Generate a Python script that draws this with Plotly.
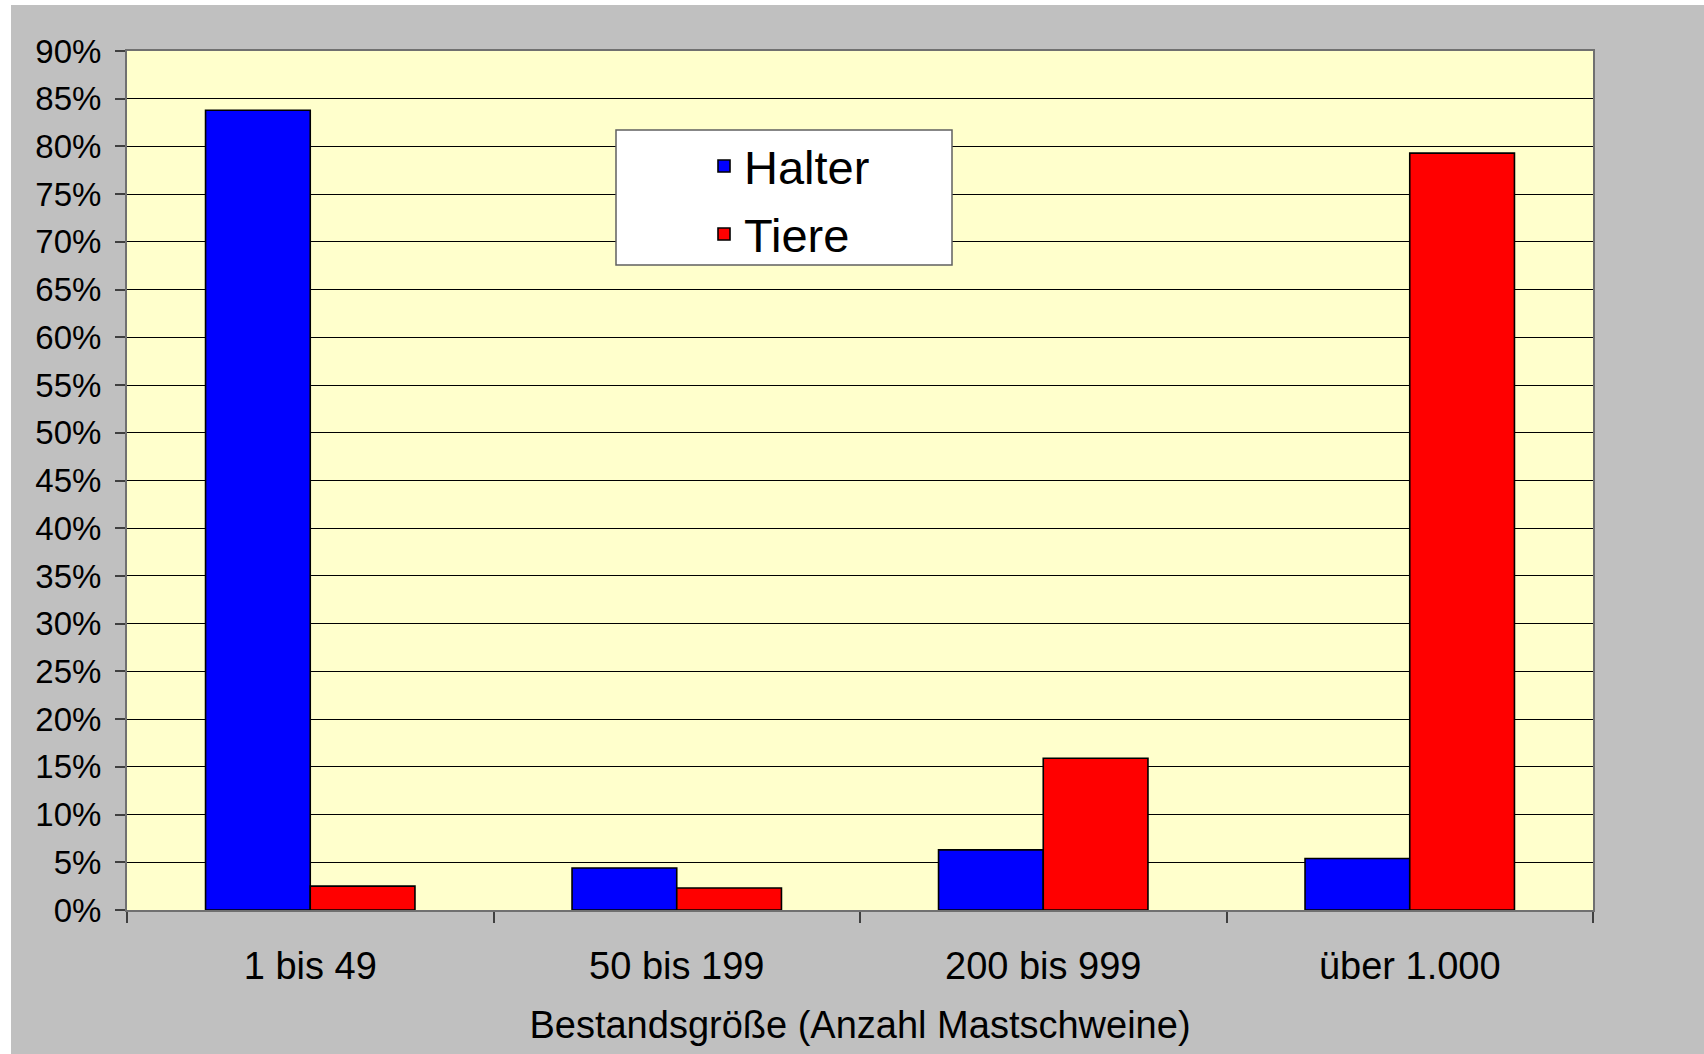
import plotly.graph_objects as go

categories = ["1 bis 49", "50 bis 199", "200 bis 999", "über 1.000"]
halter = [0.838, 0.044, 0.063, 0.054]
tiere = [0.025, 0.023, 0.159, 0.793]
series_names = ["Halter", "Tiere"]
x_title = "Bestandsgröße (Anzahl Mastschweine)"

W, H = 1704, 1054
ML, MR, MT, MB = 127, 111, 51, 144
PW = W - ML - MR
PH = H - MT - MB

def px(x):
    return (x - ML) / PW

def py(y):
    return (H - MB - y) / PH

FONT = "Liberation Sans, Arial, sans-serif"
GREY_LINE = "#707070"
LEG_FONT = dict(family=FONT, size=47, color="black")

fig = go.Figure()
fig.add_trace(go.Bar(x=categories, y=halter, name=series_names[0], legend="legend",
                     marker=dict(color="#0000FF", line=dict(color="black", width=1.6))))
fig.add_trace(go.Bar(x=categories, y=tiere, name=series_names[1], legend="legend2",
                     marker=dict(color="#FF0000", line=dict(color="black", width=1.6))))

shapes = [
    # white page strips (top and left)
    dict(type="rect", xref="paper", yref="paper", x0=px(0), x1=px(W), y0=py(5), y1=py(0),
         fillcolor="white", line=dict(width=0), layer="below"),
    dict(type="rect", xref="paper", yref="paper", x0=px(0), x1=px(11), y0=py(H), y1=py(0),
         fillcolor="white", line=dict(width=0), layer="below"),
    # legend frame
    dict(type="rect", xref="paper", yref="paper", x0=px(616), x1=px(952), y0=py(265), y1=py(130),
         fillcolor="white", line=dict(color="#606060", width=1.5), layer="above"),
]

fig.update_layout(
    width=W, height=H,
    margin=dict(l=ML, r=MR, t=MT, b=MB, pad=0),
    paper_bgcolor="#C0C0C0",
    plot_bgcolor="#FFFFCC",
    font=dict(family=FONT, color="black"),
    barmode="group", bargap=0.4286, bargroupgap=0,
    shapes=shapes,
    showlegend=True,
    legend=dict(x=px(704), y=py(129), xanchor="left", yanchor="top",
                bgcolor="rgba(0,0,0,0)", borderwidth=0, font=LEG_FONT),
    legend2=dict(x=px(704), y=py(197), xanchor="left", yanchor="top",
                 bgcolor="rgba(0,0,0,0)", borderwidth=0, font=LEG_FONT),
    xaxis=dict(type="category", showline=True, linecolor=GREY_LINE, linewidth=2, mirror=True,
               ticks="outside", tickson="boundaries", ticklen=11, tickcolor="#404040", tickwidth=1.5,
               ticklabelstandoff=21,
               tickfont=dict(family=FONT, size=38, color="black"),
               showgrid=False, zeroline=False,
               title=dict(text=x_title, font=dict(family=FONT, size=38, color="black"), standoff=26)),
    yaxis=dict(range=[0, 0.9], dtick=0.05, tick0=0, tickformat=".0%",
               showline=True, linecolor=GREY_LINE, linewidth=2, mirror=True,
               ticks="outside", ticklen=10, tickcolor="#404040", tickwidth=1.5,
               ticklabelstandoff=7,
               tickfont=dict(family=FONT, size=33, color="black"),
               showgrid=True, gridcolor="black", gridwidth=1, zeroline=False),
)

fig.write_html("out.html", config={"displayModeBar": False},
               post_script="document.body.style.margin='0';")
